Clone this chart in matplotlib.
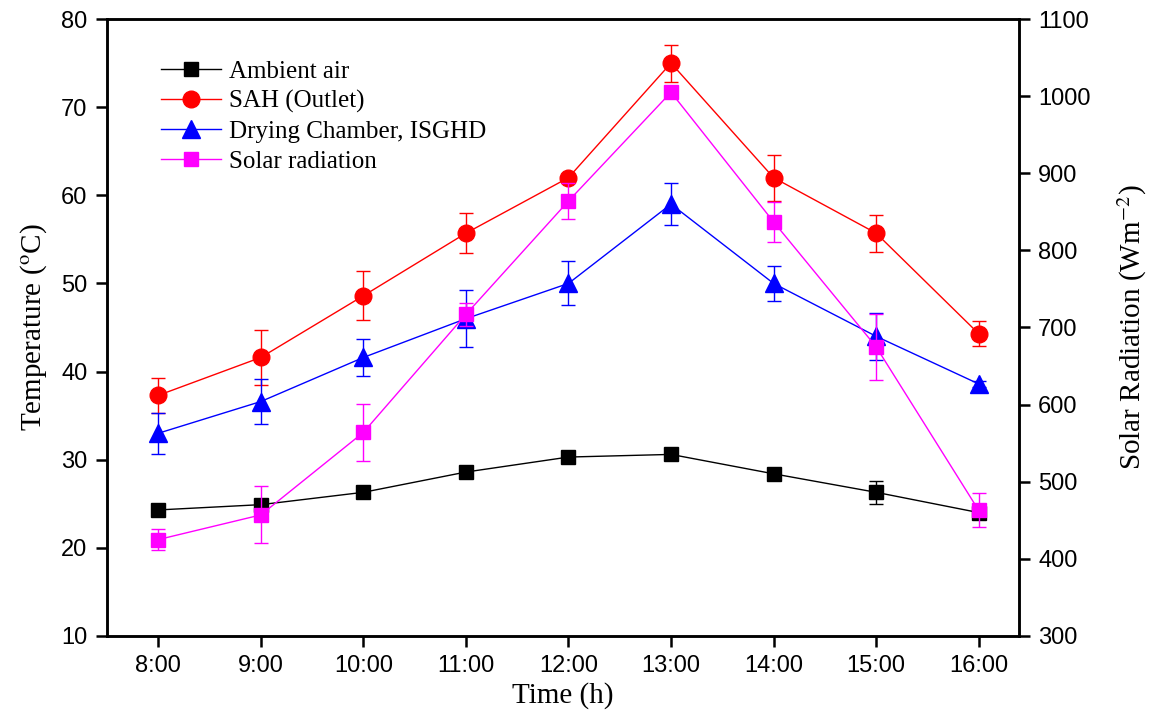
import numpy as np
import matplotlib.pyplot as plt

plt.rcParams['mathtext.fontset'] = 'stix'

hours = ['8:00', '9:00', '10:00', '11:00', '12:00', '13:00', '14:00', '15:00', '16:00']

ambient = [24.3, 24.9, 26.3, 28.6, 30.3, 30.6, 28.4, 26.3, 24.0]
ambient_err = [0.2, 0.3, 0.5, 0.6, 0.6, 0.3, 0.6, 1.3, 0.2]

sah = [37.3, 41.6, 48.6, 55.7, 62.0, 75.0, 62.0, 55.7, 44.3]
sah_err = [2.0, 3.1, 2.8, 2.3, 0.3, 2.1, 2.6, 2.1, 1.4]

chamber = [33.0, 36.6, 41.6, 46.0, 50.0, 59.0, 50.0, 44.0, 38.6]
chamber_err = [2.3, 2.6, 2.1, 3.2, 2.5, 2.4, 2.0, 2.7, 0.3]

radiation = [425, 457, 564, 717, 864, 1005, 837, 675, 463]
radiation_err = [14, 37, 37, 15, 23, 4, 26, 43, 22]

x = np.arange(len(hours))

fig = plt.figure(figsize=(11.51, 7.17), dpi=100)
ax = fig.add_axes([0.093, 0.113, 0.792, 0.8605])
ax2 = ax.twinx()

h1 = ax.errorbar(x, ambient, yerr=ambient_err, color='black', lw=1, marker='s', ms=10,
                 capsize=5, elinewidth=1, label='Ambient air')
h2 = ax.errorbar(x, sah, yerr=sah_err, color='red', lw=1, marker='o', ms=12,
                 capsize=5, elinewidth=1, label='SAH (Outlet)')
h3 = ax.errorbar(x, chamber, yerr=chamber_err, color='blue', lw=1, marker='^', ms=13,
                 capsize=5, elinewidth=1, label='Drying Chamber, ISGHD')
h4 = ax2.errorbar(x, radiation, yerr=radiation_err, color='magenta', lw=1, marker='s', ms=10,
                  capsize=5, elinewidth=1, label='Solar radiation')

ax.set_xlim(-0.5, 8.39)
ax.set_ylim(10, 80)
ax2.set_ylim(300, 1100)
ax.set_xticks(x)
ax.set_xticklabels(hours)
ax.set_yticks(range(10, 81, 10))
ax2.set_yticks(range(300, 1101, 100))

for a in (ax, ax2):
    for s in a.spines.values():
        s.set_linewidth(1.8)
    a.tick_params(direction='out', length=8, width=1.8, labelsize=17, pad=6)
    for lbl in a.get_xticklabels() + a.get_yticklabels():
        lbl.set_fontfamily('Liberation Sans')

ax.set_xlabel('Time (h)', fontsize=21, family='Liberation Serif', labelpad=3)
ax.set_ylabel('Temperature ($^{\\mathrm{o}}$C)', fontsize=21, family='Liberation Serif', labelpad=9)
ax2.set_ylabel('Solar Radiation (Wm$^{\\mathrm{-2}}$)', fontsize=21, family='Liberation Serif',
               rotation=90, labelpad=18)

# legend on the twin axes so it sits above every series; plain line+marker handles
ax2.legend(handles=[h[0] for h in (h1, h2, h3, h4)],
           labels=['Ambient air', 'SAH (Outlet)', 'Drying Chamber, ISGHD', 'Solar radiation'],
           loc='upper left', bbox_to_anchor=(0.035, 0.97),
           frameon=False, handlelength=2.4, handletextpad=0.3, labelspacing=0.3,
           prop={'family': 'Liberation Serif', 'size': 18})

fig.savefig('out.png', dpi=100)
